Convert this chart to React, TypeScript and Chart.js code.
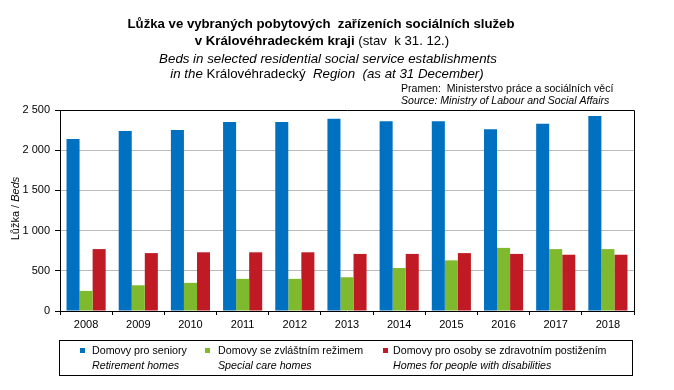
import React, { useEffect, useRef } from "react";
import { Chart, registerables } from "chart.js";

Chart.register(...registerables);

const years = ["2008", "2009", "2010", "2011", "2012", "2013", "2014", "2015", "2016", "2017", "2018"];
const retirementHomes = [2140, 2240, 2250, 2350, 2350, 2390, 2360, 2360, 2260, 2330, 2425];
const specialCareHomes = [250, 320, 350, 400, 400, 420, 535, 630, 785, 770, 770];
const disabilityHomes = [770, 720, 730, 730, 730, 710, 710, 720, 710, 700, 700];
const yTicks = [0, 500, 1000, 1500, 2000, 2500];

const seriesNames = [
  ["Domovy pro seniory", "Retirement homes"],
  ["Domovy se zvláštním režimem", "Special care homes"],
  ["Domovy pro osoby se zdravotním postižením", "Homes for people with disabilities"],
];
const colors = ["#0070C0", "#7FBA2E", "#C01B24"];

const FONT = "'Liberation Sans', Arial, sans-serif";

function drawSegments(ctx: CanvasRenderingContext2D, segs: [string, string][], cx: number, y: number) {
  let total = 0;
  for (const [t, f] of segs) {
    ctx.font = f;
    total += ctx.measureText(t).width;
  }
  let x = cx - total / 2;
  for (const [t, f] of segs) {
    ctx.font = f;
    ctx.fillText(t, x, y);
    x += ctx.measureText(t).width;
  }
}

function drawNarrow(ctx: CanvasRenderingContext2D, text: string, x: number, y: number, k: number) {
  ctx.save();
  ctx.translate(x, y);
  ctx.scale(k, 1);
  ctx.fillText(text, 0, 0);
  ctx.restore();
}

const decor = {
  id: "decor",
  afterDraw(chart: any) {
    const ctx: CanvasRenderingContext2D = chart.ctx;
    const a = chart.chartArea;
    ctx.save();
    ctx.fillStyle = "#000";
    ctx.textBaseline = "middle";
    ctx.textAlign = "left";
    drawSegments(ctx, [["Lůžka ve vybraných pobytových  zařízeních sociálních služeb", `bold 13.2px ${FONT}`]], 321, 24);
    drawSegments(ctx, [["v Královéhradeckém kraji", `bold 13.2px ${FONT}`], [" (stav  k 31. 12.)", `13.2px ${FONT}`]], 322, 41);
    drawSegments(ctx, [["Beds in selected residential social service establishments", `italic 13.3px ${FONT}`]], 328, 59);
    drawSegments(ctx, [["in the ", `italic 13.3px ${FONT}`], ["Královéhradecký ", `13.3px ${FONT}`], [" Region  (as at 31 December)", `italic 13.3px ${FONT}`]], 327, 74);
    ctx.font = `11px ${FONT}`;
    drawNarrow(ctx, "Pramen:  Ministerstvo práce a sociálních věcí", 401, 89, 0.96);
    ctx.font = `italic 11px ${FONT}`;
    drawNarrow(ctx, "Source: Ministry of Labour and Social Affairs", 401, 101, 0.96);

    // y-axis title
    ctx.save();
    ctx.translate(16, (a.top + a.bottom) / 2 - 2);
    ctx.rotate(-Math.PI / 2);
    drawSegments(ctx, [["Lůžka / ", `11px ${FONT}`], ["Beds", `italic 11px ${FONT}`]], 0, 0);
    ctx.restore();

    // plot border
    ctx.strokeStyle = "#000";
    ctx.lineWidth = 1;
    ctx.beginPath();
    ctx.moveTo(Math.round(a.left) + 0.5, Math.round(a.top) + 0.5);
    ctx.lineTo(Math.round(a.right) + 0.5, Math.round(a.top) + 0.5);
    ctx.lineTo(Math.round(a.right) + 0.5, Math.round(a.bottom) + 0.5);
    ctx.stroke();

    // legend
    ctx.strokeRect(59.5, 340.5, 573, 35);
    const sq = [80, 205, 383];
    const tx = [92, 218, 393];
    chart.data.datasets.forEach((ds: any, i: number) => {
      ctx.fillStyle = ds.backgroundColor;
      ctx.fillRect(sq[i], 348, 5, 5);
      ctx.fillStyle = "#000";
      ctx.font = `11px ${FONT}`;
      drawNarrow(ctx, seriesNames[i][0], tx[i], 351, 0.97);
      ctx.font = `italic 11px ${FONT}`;
      drawNarrow(ctx, seriesNames[i][1], tx[i], 366, 0.97);
    });
    ctx.restore();
  },
};

export default function App() {
  const ref = useRef<HTMLCanvasElement>(null);
  useEffect(() => {
    document.body.style.margin = "0";
    const chart = new Chart(ref.current!, {
      type: "bar",
      data: {
        labels: years,
        datasets: [retirementHomes, specialCareHomes, disabilityHomes].map((d, i) => ({
          label: seriesNames[i][0],
          data: d,
          backgroundColor: colors[i],
          borderWidth: 0,
          barPercentage: 1,
          categoryPercentage: 0.75,
        })),
      },
      options: {
        animation: false,
        responsive: false,
        devicePixelRatio: 1,
        layout: { padding: { left: 0, top: 110, right: 40, bottom: 0 } },
        plugins: { legend: { display: false }, title: { display: false }, tooltip: { enabled: false } },
        scales: {
          x: {
            afterFit: (s: any) => { s.height = 79; },
            grid: { drawOnChartArea: false, drawTicks: true, tickLength: 4, color: "#000", offset: true },
            border: { color: "#000", width: 1 },
            ticks: { color: "#000", font: { family: FONT, size: 11 }, padding: 3, maxRotation: 0 },
          },
          y: {
            min: 0,
            max: 2500,
            afterFit: (s: any) => { s.width = 60; },
            afterBuildTicks: (s: any) => { s.ticks = yTicks.map((v) => ({ value: v })); },
            grid: { color: "#BBBBBB", tickColor: "#000", tickLength: 5, lineWidth: 1 },
            border: { color: "#000", width: 1 },
            ticks: {
              color: "#000",
              font: { family: FONT, size: 11 },
              padding: 5,
              callback: (v: any) => String(v).replace(/\B(?=(\d{3})+(?!\d))/g, " "),
            },
          },
        },
      },
      plugins: [decor],
    });
    return () => chart.destroy();
  }, []);
  return (
    <div style={{ position: "fixed", left: 0, top: 0, width: 674, height: 390, background: "#fff" }}>
      <canvas ref={ref} width={674} height={390} style={{ width: 674, height: 390, display: "block" }} />
    </div>
  );
}
